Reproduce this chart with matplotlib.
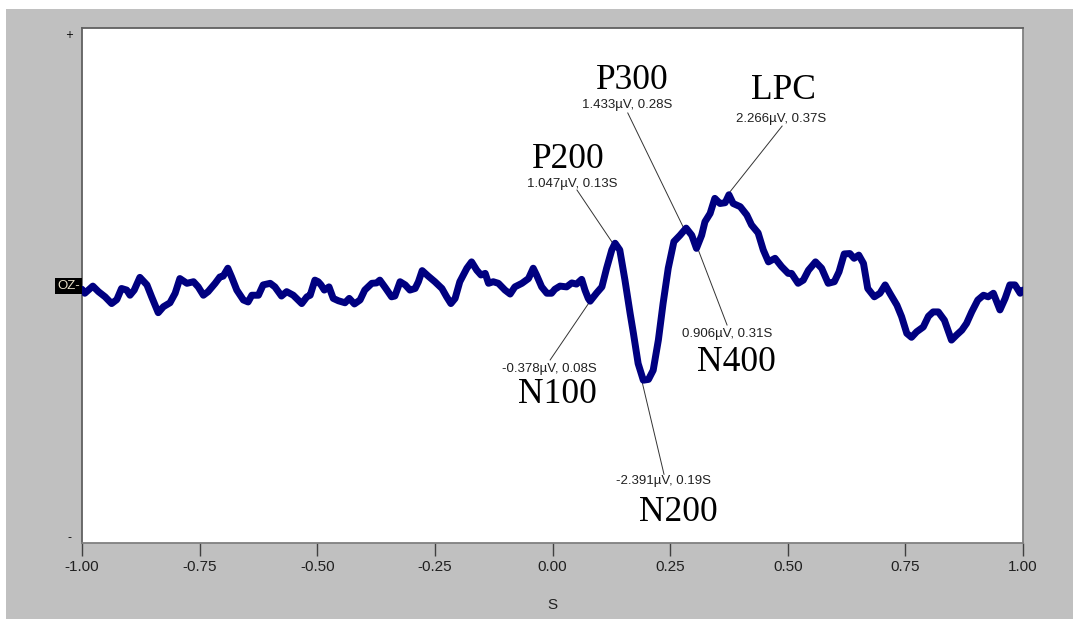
import matplotlib.pyplot as plt
from matplotlib.patches import Rectangle

# ERP waveform at OZ (time in s, amplitude in µV)
t = [-1.000, -0.994, -0.977, -0.965, -0.951, -0.937, -0.926, -0.916, -0.905, -0.898,
     -0.889, -0.877, -0.862, -0.852, -0.838, -0.827, -0.813, -0.802, -0.792, -0.777,
     -0.763, -0.753, -0.742, -0.732, -0.717, -0.707, -0.700, -0.690, -0.682, -0.671,
     -0.657, -0.647, -0.639, -0.625, -0.615, -0.600, -0.590, -0.576, -0.565, -0.551,
     -0.533, -0.522, -0.515, -0.505, -0.498, -0.492, -0.485, -0.475, -0.466, -0.455,
     -0.441, -0.432, -0.421, -0.409, -0.399, -0.384, -0.374, -0.367, -0.356, -0.342,
     -0.335, -0.324, -0.313, -0.303, -0.292, -0.285, -0.277, -0.264, -0.250, -0.235,
     -0.225, -0.216, -0.207, -0.197, -0.182, -0.172, -0.161, -0.152, -0.143, -0.136,
     -0.126, -0.115, -0.101, -0.090, -0.080, -0.065, -0.051, -0.041, -0.034, -0.023,
     -0.012, -0.002, 0.005, 0.016, 0.030, 0.041, 0.051, 0.062, 0.069, 0.076,
     0.080, 0.094, 0.105, 0.115, 0.126, 0.133, 0.143, 0.154, 0.165, 0.172,
     0.182, 0.193, 0.204, 0.214, 0.225, 0.235, 0.246, 0.258, 0.271, 0.284,
     0.296, 0.306, 0.317, 0.324, 0.335, 0.345, 0.356, 0.367, 0.375, 0.384,
     0.399, 0.413, 0.423, 0.437, 0.448, 0.459, 0.473, 0.487, 0.501, 0.508,
     0.522, 0.533, 0.544, 0.559, 0.572, 0.586, 0.599, 0.609, 0.620, 0.632,
     0.641, 0.651, 0.661, 0.670, 0.684, 0.696, 0.707, 0.717, 0.732, 0.742,
     0.753, 0.763, 0.774, 0.788, 0.799, 0.809, 0.820, 0.833, 0.848, 0.859,
     0.870, 0.880, 0.891, 0.904, 0.916, 0.926, 0.937, 0.951, 0.962, 0.972,
     0.983, 0.994, 1.000]
uv = [-0.08, -0.18, 0.00, -0.14, -0.27, -0.44, -0.34, -0.06, -0.10, -0.23,
      -0.10, 0.22, 0.03, -0.27, -0.67, -0.52, -0.42, -0.18, 0.19, 0.07,
      0.11, -0.02, -0.23, -0.14, 0.07, 0.23, 0.25, 0.45, 0.23, -0.10,
      -0.35, -0.40, -0.23, -0.23, 0.03, 0.07, -0.02, -0.25, -0.14, -0.23,
      -0.44, -0.27, -0.23, 0.15, 0.11, 0.03, -0.10, -0.02, -0.31, -0.37,
      -0.42, -0.31, -0.45, -0.35, -0.10, 0.07, 0.08, 0.15, -0.03, -0.27,
      -0.25, 0.11, 0.03, -0.10, -0.06, 0.11, 0.39, 0.25, 0.11, -0.06,
      -0.27, -0.44, -0.31, 0.11, 0.45, 0.61, 0.40, 0.28, 0.32, 0.07,
      0.11, 0.07, -0.10, -0.20, -0.02, 0.07, 0.19, 0.45, 0.28, -0.02,
      -0.18, -0.18, -0.08, 0.00, -0.02, 0.08, 0.05, 0.17, -0.10, -0.31,
      -0.38, -0.17, -0.02, 0.45, 0.91, 1.08, 0.91, 0.15, -0.69, -1.19,
      -1.95, -2.37, -2.35, -2.12, -1.36, -0.44, 0.45, 1.12, 1.28, 1.46,
      1.28, 0.95, 1.28, 1.62, 1.83, 2.21, 2.08, 2.10, 2.30, 2.08,
      2.00, 1.79, 1.54, 1.34, 0.91, 0.61, 0.70, 0.49, 0.32, 0.32,
      0.07, 0.15, 0.40, 0.61, 0.45, 0.07, 0.11, 0.36, 0.81, 0.82,
      0.70, 0.78, 0.57, -0.06, -0.27, -0.18, 0.03, -0.18, -0.48, -0.77,
      -1.19, -1.29, -1.15, -1.03, -0.76, -0.65, -0.65, -0.86, -1.36, -1.23,
      -1.11, -0.94, -0.65, -0.35, -0.23, -0.27, -0.18, -0.60, -0.31, 0.03,
      0.03, -0.18, -0.10]

# ERP components: name, latency (s), amplitude (µV)
comp_names = ["N100", "P200", "N200", "P300", "N400", "LPC"]
comp_t = [0.08, 0.13, 0.19, 0.28, 0.31, 0.37]
comp_uv = [-0.378, 1.047, -2.391, 1.433, 0.906, 2.266]
# where the label block sits (value text, big name) and where the leader line ends
val_pos = [(-0.007, -2.09), (0.041, 2.57), (0.235, -4.91), (0.158, 4.56), (0.371, -1.21), (0.486, 4.21)]
name_pos = [(0.010, -2.72), (0.033, 3.20), (0.267, -5.70), (0.169, 5.18), (0.390, -1.92), (0.490, 4.92)]
line_end = [(-0.005, -1.86), (0.052, 2.42), (0.237, -4.74), (0.160, 4.36), (0.371, -0.98), (0.488, 4.03)]

xticks = [-1.00, -0.75, -0.50, -0.25, 0.00, 0.25, 0.50, 0.75, 1.00]

W, H = 1073, 619
fig = plt.figure(figsize=(W / 100, H / 100), dpi=100)
fig.patch.set_facecolor("white")
fig.patches.append(Rectangle((6 / W, 0), 1 - 6 / W, 1 - 9 / H, transform=fig.transFigure,
                             facecolor="#c0c0c0", edgecolor="none", zorder=-10))

ax = fig.add_axes([82 / W, 1 - 543 / H, (1023 - 82) / W, (543 - 28) / H])
ax.set_zorder(1)
ax.set_facecolor("white")
ax.plot(t, uv, color="#000080", lw=5, solid_joinstyle="round", solid_capstyle="round", zorder=3)

ax.set_xlim(-1, 1)
ax.set_ylim(-6.47, 6.5)
ax.set_xticks(xticks)
ax.set_xticklabels([f"{v:.2f}" for v in xticks], fontsize=11, family="Liberation Sans", color="#202020")
ax.tick_params(axis="x", direction="out", length=9.5, width=1, color="#404040", pad=3)
ax.set_yticks([])
for s in ax.spines.values():
    s.set_color("#808080")
    s.set_linewidth(1.3)
ax.spines["top"].set_color("#606060")
ax.spines["left"].set_color("#606060")

for i, name in enumerate(comp_names):
    ax.plot([comp_t[i], line_end[i][0]], [comp_uv[i], line_end[i][1]], color="#333333", lw=0.7, zorder=2)
    ax.text(val_pos[i][0], val_pos[i][1], f"{comp_uv[i]:.3f}µV, {comp_t[i]:.2f}S",
            ha="center", va="center", fontsize=9.5, family="Liberation Sans", color="#202020")
    ax.text(name_pos[i][0], name_pos[i][1], name, ha="center", va="center",
            fontsize=25.5, family="Liberation Serif", color="black")

# y-axis markers and channel label
fig.text(69 / W, 1 - 35 / H, "+", ha="center", va="center", fontsize=7, color="black")
fig.text(69 / W, 1 - 537 / H, "-", ha="center", va="center", fontsize=8, color="black")
fig.text(80 / W, 1 - 286 / H, "OZ-", ha="right", va="center", fontsize=9.5, family="Liberation Sans",
         color="#e8e0c8", bbox=dict(facecolor="black", edgecolor="none", pad=1.5), zorder=5)
fig.text(552 / W, 1 - 605 / H, "S", ha="center", va="center", fontsize=11,
         family="Liberation Sans", color="#202020")

fig.savefig("out.png", dpi=100, facecolor=fig.get_facecolor())
